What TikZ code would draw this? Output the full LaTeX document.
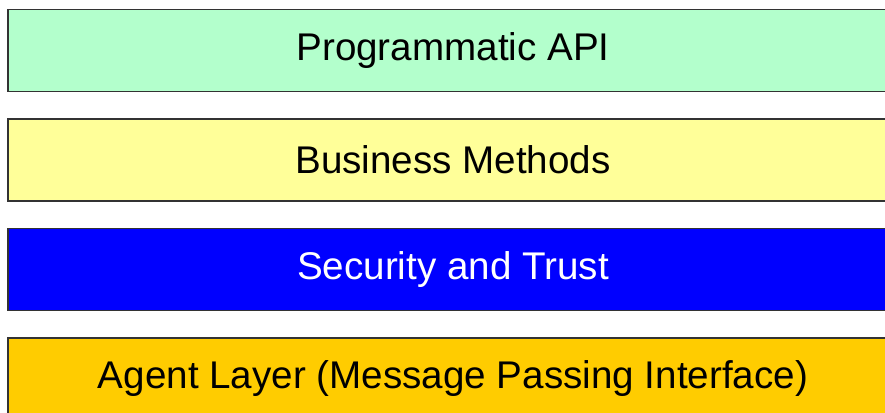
\documentclass[tikz,border=0pt]{standalone}
\usepackage{fontspec}
\setmainfont{Liberation Sans}
\usepackage{xcolor}
\definecolor{apigreen}{HTML}{B3FFCC}
\definecolor{bizyellow}{HTML}{FFFF99}
\definecolor{secblue}{HTML}{0000FF}
\definecolor{agentorange}{HTML}{FFCC00}
\usepackage{tikz}
\usetikzlibrary{positioning}
\tikzset{
  layer/.style  ={rectangle, draw=black!80, line width=1.3pt, outer sep=0pt,
                  minimum width=890pt, minimum height=82pt, inner sep=0pt,
                  font=\fontsize{38.6}{46}\selectfont},
  apibox/.style ={layer, fill=apigreen},
  bizbox/.style ={layer, fill=bizyellow},
  secbox/.style ={layer, fill=secblue, text=white},
  agbox/.style  ={layer, fill=agentorange},
}

\begin{document}
\begin{tikzpicture}[node distance=27.5pt]
  \useasboundingbox (0,0) rectangle (885pt,-412pt);
  \node[apibox] (api) at (453pt,-50.5pt) {Programmatic API};
  \node[bizbox, below=of api] (biz) {Business Methods};
  \node[secbox, below=of biz] (sec) {Security and Trust};
  \node[agbox, below=of sec] (agent) {Agent Layer (Message Passing Interface)};
\end{tikzpicture}
\end{document}
